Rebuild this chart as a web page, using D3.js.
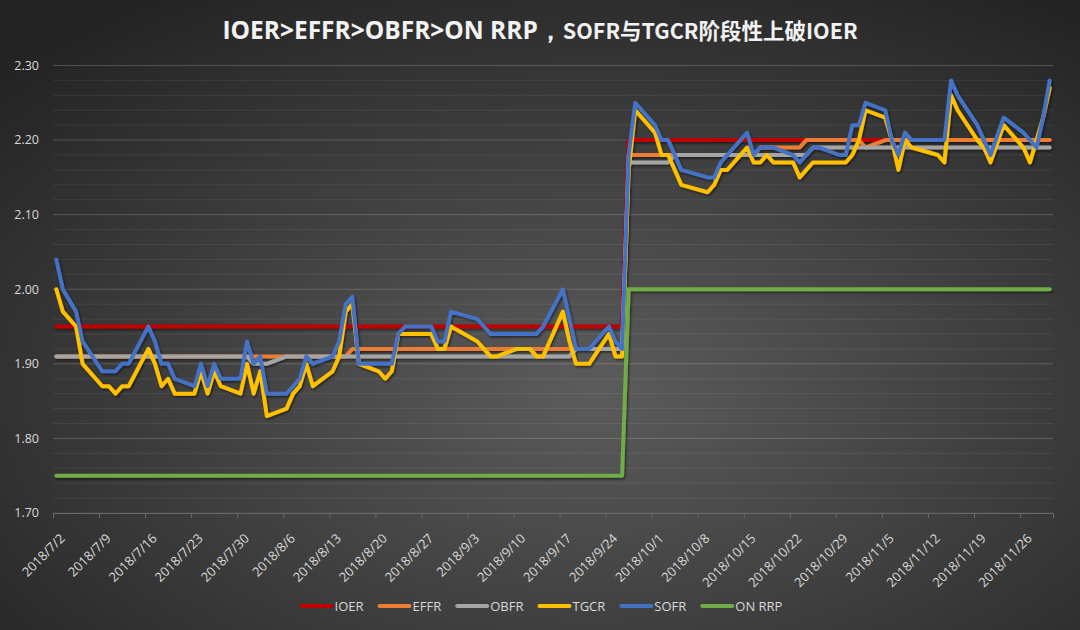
<!DOCTYPE html>
<html>
<head>
<meta charset="utf-8">
<script src="https://cdn.jsdelivr.net/npm/d3@7"></script>
<style>
  html, body { margin: 0; padding: 0; background: #2a2a2a; }
  svg { display: block; }
</style>
</head>
<body>
<div id="chart"></div>
<script>
// business days 2018/7/2 - 2018/11/30, market holidays skipped
const firstDay = "2018-07-02";
const lastDay = "2018-11-30";
const holidays = ["2018-07-04", "2018-09-03", "2018-10-08", "2018-11-12", "2018-11-22"];

// one row per week
const ioer = [
    1.95, 1.95, 1.95, 1.95,
    1.95, 1.95, 1.95, 1.95, 1.95,
    1.95, 1.95, 1.95, 1.95, 1.95,
    1.95, 1.95, 1.95, 1.95, 1.95,
    1.95, 1.95, 1.95, 1.95, 1.95,
    1.95, 1.95, 1.95, 1.95, 1.95,
    1.95, 1.95, 1.95, 1.95, 1.95,
    1.95, 1.95, 1.95, 1.95, 1.95,
    1.95, 1.95, 1.95, 1.95, 1.95,
    1.95, 1.95, 1.95, 1.95,
    1.95, 1.95, 1.95, 1.95, 1.95,
    1.95, 1.95, 1.95, 1.95, 1.95,
    1.95, 1.95, 1.95, 2.20, 2.20,
    2.20, 2.20, 2.20, 2.20, 2.20,
    2.20, 2.20, 2.20, 2.20,
    2.20, 2.20, 2.20, 2.20, 2.20,
    2.20, 2.20, 2.20, 2.20, 2.20,
    2.20, 2.20, 2.20, 2.20, 2.20,
    2.20, 2.20, 2.20, 2.20, 2.20,
    2.20, 2.20, 2.20, 2.20,
    2.20, 2.20, 2.20, 2.20,
    2.20, 2.20, 2.20, 2.20, 2.20
];
const effr = [
    1.91, 1.91, 1.91, 1.91,
    1.91, 1.91, 1.91, 1.91, 1.91,
    1.91, 1.91, 1.91, 1.91, 1.91,
    1.91, 1.91, 1.91, 1.91, 1.91,
    1.91, 1.91, 1.91, 1.91, 1.91,
    1.91, 1.91, 1.91, 1.91, 1.91,
    1.91, 1.91, 1.91, 1.92, 1.92,
    1.92, 1.92, 1.92, 1.92, 1.92,
    1.92, 1.92, 1.92, 1.92, 1.92,
    1.92, 1.92, 1.92, 1.92,
    1.92, 1.92, 1.92, 1.92, 1.92,
    1.92, 1.92, 1.92, 1.92, 1.92,
    1.92, 1.92, 1.92, 2.18, 2.18,
    2.18, 2.18, 2.18, 2.18, 2.18,
    2.18, 2.18, 2.18, 2.18,
    2.18, 2.18, 2.19, 2.19, 2.19,
    2.19, 2.19, 2.20, 2.20, 2.20,
    2.20, 2.20, 2.20, 2.20, 2.19,
    2.20, 2.20, 2.20, 2.20, 2.20,
    2.20, 2.20, 2.20, 2.20,
    2.20, 2.20, 2.20, 2.20,
    2.20, 2.20, 2.20, 2.20, 2.20
];
const obfr = [
    1.91, 1.91, 1.91, 1.91,
    1.91, 1.91, 1.91, 1.91, 1.91,
    1.91, 1.91, 1.91, 1.91, 1.91,
    1.91, 1.91, 1.91, 1.91, 1.91,
    1.91, 1.91, 1.90, 1.90, 1.90,
    1.91, 1.91, 1.91, 1.91, 1.91,
    1.91, 1.91, 1.91, 1.91, 1.91,
    1.91, 1.91, 1.91, 1.91, 1.91,
    1.91, 1.91, 1.91, 1.91, 1.91,
    1.91, 1.91, 1.91, 1.91,
    1.91, 1.91, 1.91, 1.91, 1.91,
    1.91, 1.91, 1.92, 1.92, 1.92,
    1.92, 1.92, 1.92, 2.17, 2.17,
    2.17, 2.17, 2.17, 2.18, 2.18,
    2.18, 2.18, 2.18, 2.18,
    2.18, 2.18, 2.18, 2.18, 2.18,
    2.18, 2.18, 2.18, 2.19, 2.19,
    2.19, 2.19, 2.19, 2.19, 2.19,
    2.19, 2.19, 2.19, 2.19, 2.19,
    2.19, 2.19, 2.19, 2.19,
    2.19, 2.19, 2.19, 2.19,
    2.19, 2.19, 2.19, 2.19, 2.19
];
const tgcr = [
    2.00, 1.97, 1.95, 1.90,
    1.87, 1.87, 1.86, 1.87, 1.87,
    1.92, 1.90, 1.87, 1.88, 1.86,
    1.86, 1.89, 1.86, 1.89, 1.87,
    1.86, 1.90, 1.86, 1.89, 1.83,
    1.84, 1.86, 1.87, 1.90, 1.87,
    1.89, 1.91, 1.97, 1.98, 1.90,
    1.89, 1.88, 1.89, 1.94, 1.94,
    1.94, 1.94, 1.92, 1.92, 1.95,
    1.93, 1.92, 1.91, 1.91,
    1.92, 1.92, 1.92, 1.91, 1.91,
    1.97, 1.93, 1.90, 1.90, 1.90,
    1.94, 1.91, 1.91, 2.16, 2.24,
    2.21, 2.18, 2.18, 2.16, 2.14,
    2.13, 2.14, 2.16, 2.16,
    2.19, 2.17, 2.17, 2.18, 2.17,
    2.17, 2.15, 2.16, 2.17, 2.17,
    2.17, 2.17, 2.18, 2.20, 2.24,
    2.23, 2.20, 2.16, 2.20, 2.19,
    2.18, 2.17, 2.26, 2.24,
    2.20, 2.19, 2.17, 2.22,
    2.19, 2.17, 2.20, 2.23, 2.27
];
const sofr = [
    2.04, 2.00, 1.97, 1.93,
    1.89, 1.89, 1.89, 1.90, 1.90,
    1.95, 1.93, 1.90, 1.90, 1.88,
    1.87, 1.90, 1.87, 1.90, 1.88,
    1.88, 1.93, 1.90, 1.91, 1.86,
    1.86, 1.87, 1.88, 1.91, 1.90,
    1.91, 1.93, 1.98, 1.99, 1.90,
    1.90, 1.90, 1.90, 1.94, 1.95,
    1.95, 1.95, 1.93, 1.93, 1.97,
    1.96, 1.95, 1.94, 1.94,
    1.94, 1.94, 1.94, 1.94, 1.95,
    2.00, 1.96, 1.92, 1.92, 1.92,
    1.95, 1.93, 1.92, 2.18, 2.25,
    2.22, 2.20, 2.20, 2.18, 2.16,
    2.15, 2.15, 2.17, 2.18,
    2.21, 2.18, 2.19, 2.19, 2.19,
    2.18, 2.17, 2.18, 2.19, 2.19,
    2.18, 2.18, 2.22, 2.22, 2.25,
    2.24, 2.20, 2.18, 2.21, 2.20,
    2.20, 2.20, 2.28, 2.26,
    2.22, 2.20, 2.18, 2.23,
    2.21, 2.20, 2.19, 2.23, 2.28
];
const onrrp = [
    1.75, 1.75, 1.75, 1.75,
    1.75, 1.75, 1.75, 1.75, 1.75,
    1.75, 1.75, 1.75, 1.75, 1.75,
    1.75, 1.75, 1.75, 1.75, 1.75,
    1.75, 1.75, 1.75, 1.75, 1.75,
    1.75, 1.75, 1.75, 1.75, 1.75,
    1.75, 1.75, 1.75, 1.75, 1.75,
    1.75, 1.75, 1.75, 1.75, 1.75,
    1.75, 1.75, 1.75, 1.75, 1.75,
    1.75, 1.75, 1.75, 1.75,
    1.75, 1.75, 1.75, 1.75, 1.75,
    1.75, 1.75, 1.75, 1.75, 1.75,
    1.75, 1.75, 1.75, 2.00, 2.00,
    2.00, 2.00, 2.00, 2.00, 2.00,
    2.00, 2.00, 2.00, 2.00,
    2.00, 2.00, 2.00, 2.00, 2.00,
    2.00, 2.00, 2.00, 2.00, 2.00,
    2.00, 2.00, 2.00, 2.00, 2.00,
    2.00, 2.00, 2.00, 2.00, 2.00,
    2.00, 2.00, 2.00, 2.00,
    2.00, 2.00, 2.00, 2.00,
    2.00, 2.00, 2.00, 2.00, 2.00
];

const seriesNames = ["IOER", "EFFR", "OBFR", "TGCR", "SOFR", "ON RRP"];
const seriesColors = ["#c00000", "#ed7d31", "#a5a5a5", "#ffc000", "#4472c4", "#70ad47"];
const seriesValues = [ioer, effr, obfr, tgcr, sofr, onrrp];

const yMin = 1.70, yMax = 2.30;
const yMajor = [1.70, 1.80, 1.90, 2.00, 2.10, 2.20, 2.30];

const width = 1080, height = 630;
const margin = {top: 65.5, right: 27, bottom: 117, left: 53};

const parse = d3.timeParse("%Y-%m-%d");
const fmtKey = d3.timeFormat("%Y-%m-%d");
const fmtTick = d3.timeFormat("%Y/%-m/%-d");

const days = d3.timeDay.range(parse(firstDay), d3.timeDay.offset(parse(lastDay), 1))
    .filter(d => d.getDay() !== 0 && d.getDay() !== 6 && !holidays.includes(fmtKey(d)));

const svg = d3.select("#chart")
    .append("svg")
    .attr("width", width)
    .attr("height", height);

const defs = svg.append("defs");
const grad = defs.append("radialGradient")
    .attr("id", "bg")
    .attr("cx", "55%").attr("cy", "62%").attr("r", "75%");
grad.append("stop").attr("offset", "0%").attr("stop-color", "#5c5c5c");
grad.append("stop").attr("offset", "100%").attr("stop-color", "#232323");

const shadow = defs.append("filter")
    .attr("id", "shadow")
    .attr("x", "-5%").attr("y", "-5%").attr("width", "110%").attr("height", "110%");
shadow.append("feDropShadow")
    .attr("dx", 1.2).attr("dy", 1.5)
    .attr("stdDeviation", 1.2)
    .attr("flood-color", "#000")
    .attr("flood-opacity", 0.55);

svg.append("rect")
    .attr("width", width).attr("height", height)
    .attr("fill", "url(#bg)");

// scales
const x = d3.scaleTime()
    .domain([parse(firstDay), d3.timeDay.offset(parse(lastDay), 1)])
    .range([margin.left, width - margin.right]);
const y = d3.scaleLinear()
    .domain([yMin, yMax])
    .range([height - margin.bottom, margin.top]);

// point sits in the middle of its day
const xPos = d => x(d3.timeHour.offset(d, 12));

// gridlines, minor every 0.02
const minor = d3.range(0, 31).map(i => yMin + i * 0.02);
svg.append("g")
    .selectAll("line")
    .data(minor)
    .enter()
    .append("line")
    .attr("x1", margin.left).attr("x2", width - margin.right)
    .attr("y1", d => y(d)).attr("y2", d => y(d))
    .attr("stroke", "#ffffff")
    .attr("stroke-opacity", 0.07)
    .attr("stroke-width", 1);

svg.append("g")
    .selectAll("line")
    .data(yMajor.slice(1))
    .enter()
    .append("line")
    .attr("x1", margin.left).attr("x2", width - margin.right)
    .attr("y1", d => y(d)).attr("y2", d => y(d))
    .attr("stroke", "#ffffff")
    .attr("stroke-opacity", 0.13)
    .attr("stroke-width", 1);

// y labels
svg.append("g")
    .selectAll("text")
    .data(yMajor)
    .enter()
    .append("text")
    .attr("x", 39)
    .attr("y", d => y(d))
    .attr("dy", "0.35em")
    .attr("text-anchor", "end")
    .attr("fill", "#d9d9d9")
    .style("font-family", "'Open Sans', sans-serif")
    .style("font-size", "12.5px")
    .text(d => d.toFixed(2));

// x axis
const mondays = d3.timeMonday.range(parse(firstDay), parse(lastDay));
const xAxis = d3.axisBottom(x)
    .tickValues(mondays)
    .tickSize(5)
    .tickFormat(fmtTick);
const gx = svg.append("g")
    .attr("transform", `translate(0,${y(yMin)})`)
    .call(xAxis);
gx.select(".domain").attr("stroke", "#6a6a6a");
gx.selectAll(".tick line").attr("stroke", "#6a6a6a");
gx.selectAll(".tick text")
    .attr("fill", "#d9d9d9")
    .style("font-family", "'Open Sans', sans-serif")
    .style("font-size", "13px")
    .attr("text-anchor", "end")
    .attr("dy", "0.35em")
    .attr("transform", "translate(9,23) rotate(-45)")
    .attr("x", 0).attr("y", 0);

// lines
const line = d3.line()
    .x((d, i) => xPos(days[i]))
    .y(d => y(d));

svg.append("g")
    .attr("filter", "url(#shadow)")
    .selectAll("path")
    .data(seriesValues)
    .enter()
    .append("path")
    .attr("d", d => line(d))
    .attr("fill", "none")
    .attr("stroke", (d, i) => seriesColors[i])
    .attr("stroke-width", 4)
    .attr("stroke-linejoin", "round")
    .attr("stroke-linecap", "round");

// title
const title = svg.append("text")
    .attr("x", width / 2)
    .attr("y", 39)
    .attr("text-anchor", "middle")
    .attr("fill", "#f2f2f2")
    .style("font-weight", "bold");
title.append("tspan")
    .style("font-family", "'Open Sans', sans-serif")
    .style("font-size", "24.5px")
    .text("IOER>EFFR>OBFR>ON RRP，");
title.append("tspan")
    .style("font-family", "'Noto Sans CJK SC', sans-serif")
    .style("font-size", "21.5px")
    .text("SOFR与TGCR阶段性上破IOER");

// legend
const legend = svg.append("g");
let lx = 0;
seriesNames.forEach((name, i) => {
    const item = legend.append("g").attr("transform", `translate(${lx},0)`);
    item.append("line")
        .attr("x1", 2).attr("x2", 32)
        .attr("y1", 0).attr("y2", 0)
        .attr("stroke", seriesColors[i])
        .attr("stroke-width", 4)
        .attr("stroke-linecap", "round");
    const t = item.append("text")
        .attr("x", 35)
        .attr("y", 0)
        .attr("dy", "0.35em")
        .attr("fill", "#d9d9d9")
        .style("font-family", "'Open Sans', sans-serif")
        .style("font-size", "13px")
        .text(name);
    lx += 35 + t.node().getComputedTextLength() + 14;
});
legend.attr("transform", `translate(${(width - (lx - 14)) / 2 + 1},606)`);
</script>
</body>
</html>
